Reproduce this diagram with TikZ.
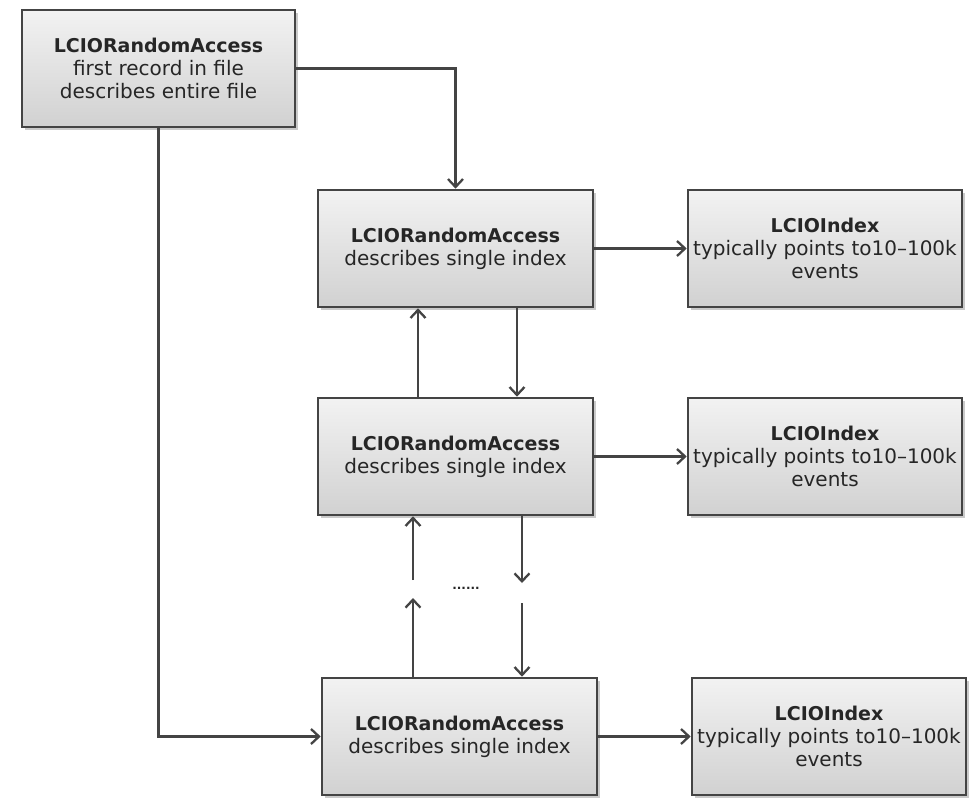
\documentclass[tikz,border=0pt]{standalone}
\usepackage{fontspec}
\setmainfont{DejaVu Sans}
\usetikzlibrary{arrows.meta,shadows}
\definecolor{edge}{HTML}{444444}
\newcommand{\ttl}[1]{{\fontsize{19}{23}\selectfont\bfseries #1}}
\tikzset{
  box/.style={draw=edge, line width=2.6pt, top color=white!95!black, bottom color=white!82!black,
    minimum height=117pt, inner sep=0pt, align=center,
    font=\fontsize{20}{23}\selectfont, text=black!85,
    drop shadow={shadow xshift=3pt, shadow yshift=-3pt, fill=black!35, opacity=0.6}},
  conn/.style={draw=edge, line width=2.3pt, -{Straight Barb[length=8pt,width=15pt,line width=2.3pt]}}
}
\begin{document}
\begin{tikzpicture}[x=1pt,y=-1pt]
\useasboundingbox (0,0) rectangle (970,798);
\node[box, minimum width=273pt] (A) at (158.5,68.5) {\ttl{LCIORandomAccess}\\first record in file\\describes entire file};
\node[box, minimum width=275pt] (B1) at (455.5,248.5) {\ttl{LCIORandomAccess}\\describes single index};
\node[box, minimum width=274pt] (I1) at (825,248.5) {\ttl{LCIOIndex}\\typically points to10–100k\\events};
\node[box, minimum width=275pt] (B2) at (455.5,456.5) {\ttl{LCIORandomAccess}\\describes single index};
\node[box, minimum width=274pt] (I2) at (825,456.5) {\ttl{LCIOIndex}\\typically points to10–100k\\events};
\node[box, minimum width=275pt] (B3) at (459.5,736.5) {\ttl{LCIORandomAccess}\\describes single index};
\node[box, minimum width=274pt] (I3) at (829,736.5) {\ttl{LCIOIndex}\\typically points to10–100k\\events};
\node[font=\fontsize{12}{12}\selectfont\bfseries, text=black!85] (dots) at (466,588) {......};
\coordinate (u1) at (418,0);
\coordinate (d1) at (517,0);
\coordinate (u2a) at (413,580);
\coordinate (u2b) at (413,598);
\coordinate (d2a) at (522,583);
\coordinate (d2b) at (522,603);
\draw[conn] (A.east) -| (B1.north);
\draw[conn] (A.south) |- (B3.west);
\draw[conn] (B1.east) -- (I1.west);
\draw[conn] (B2.east) -- (I2.west);
\draw[conn] (B3.east) -- (I3.west);
\draw[conn] (B2.north -| u1) -- (B1.south -| u1);
\draw[conn] (B1.south -| d1) -- (B2.north -| d1);
\draw[conn] (u2a) -- (B2.south -| u2a);
\draw[conn] (B3.north -| u2b) -- (u2b);
\draw[conn] (B2.south -| d2a) -- (d2a);
\draw[conn] (d2b) -- (B3.north -| d2b);
\end{tikzpicture}
\end{document}
